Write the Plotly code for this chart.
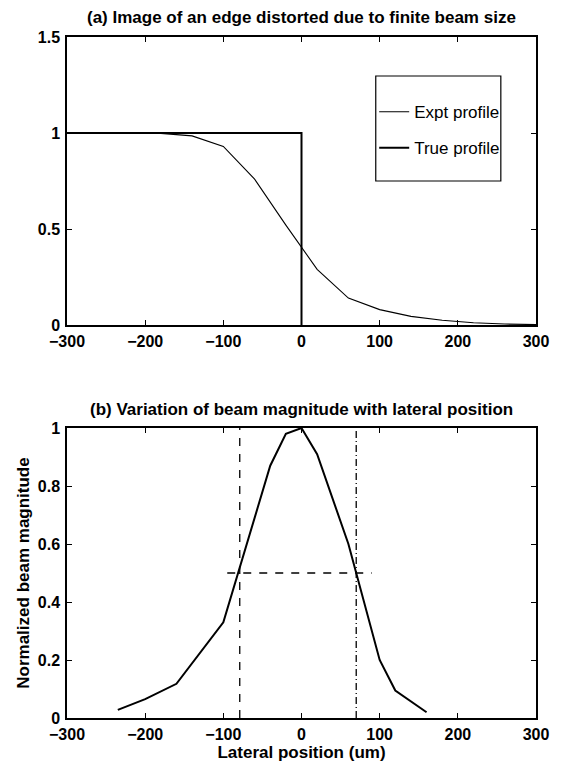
import plotly.graph_objects as go

# ---- data ----
expt_x = [-300, -260, -220, -180, -140, -100, -60, -20, 20, 60, 100, 140, 180, 220, 260, 300]
expt_y = [1.0, 1.0, 1.0, 0.998, 0.985, 0.93, 0.76, 0.52, 0.29, 0.14, 0.08, 0.045, 0.025, 0.012, 0.005, 0.002]
true_x = [-300, 0, 0]
true_y = [1.0, 1.0, 0.0]

beam_x = [-235, -200, -160, -100, -40, -20, 0, 20, 60, 100, 120, 160]
beam_y = [0.028, 0.065, 0.118, 0.33, 0.87, 0.98, 1.0, 0.91, 0.60, 0.20, 0.095, 0.02]

left_edge_x = -79
right_edge_x = 70
half_level = 0.5
half_line_x = [-95, 90]

top_title = "(a) Image of an edge distorted due to finite beam size"
bot_title = "(b) Variation of beam magnitude with lateral position"
x_label = "Lateral position (um)"
y_label = "Normalized beam magnitude"

FONT = "Liberation Sans, Arial, sans-serif"
BOLD = dict(family=FONT, size=17, color="black", weight="bold")
TICKF = dict(family=FONT, size=16, color="black", weight="bold")

fig = go.Figure()

fig.add_trace(go.Scatter(x=expt_x, y=expt_y, mode="lines", name="Expt profile",
                         line=dict(color="black", width=1.1), xaxis="x", yaxis="y",
                         legendgroup="a"))
fig.add_trace(go.Scatter(x=true_x, y=true_y, mode="lines", name="True profile",
                         line=dict(color="black", width=2), xaxis="x", yaxis="y",
                         legendgroup="b"))

fig.add_trace(go.Scatter(x=beam_x, y=beam_y, mode="lines", showlegend=False,
                         line=dict(color="black", width=2), xaxis="x2", yaxis="y2"))
fig.add_trace(go.Scatter(x=[left_edge_x, left_edge_x], y=[0, 1], mode="lines", showlegend=False,
                         line=dict(color="black", width=1.3, dash="8px,8px"), xaxis="x2", yaxis="y2"))
fig.add_trace(go.Scatter(x=[right_edge_x, right_edge_x], y=[0, 1], mode="lines", showlegend=False,
                         line=dict(color="black", width=1.3, dash="7px,3px,1px,3px"), xaxis="x2", yaxis="y2"))
fig.add_trace(go.Scatter(x=half_line_x, y=[half_level, half_level], mode="lines", showlegend=False,
                         line=dict(color="black", width=1.3, dash="8px,8px"), xaxis="x2", yaxis="y2"))

axis_common = dict(showline=True, linecolor="black", linewidth=1.5, mirror="ticks",
                   ticks="inside", ticklen=5, tickcolor="black", showgrid=False, zeroline=False,
                   tickfont=TICKF)

fig.update_layout(
    width=561, height=767,
    margin=dict(l=67, r=16, t=37, b=49),
    paper_bgcolor="white", plot_bgcolor="white",
    font=dict(family=FONT, size=16, color="black"),
    xaxis=dict(domain=[0, 1], range=[-300, 300], tickvals=[-300, -200, -100, 0, 100, 200, 300],
               anchor="y", ticklabelstandoff=1, **axis_common),
    yaxis=dict(domain=[0.5771, 1], range=[0, 1.5], tickvals=[0, 0.5, 1, 1.5],
               ticktext=["0", "0.5", "1", "1.5"], anchor="x", ticklabelstandoff=2, **axis_common),
    xaxis2=dict(domain=[0, 1], range=[-300, 300], tickvals=[-300, -200, -100, 0, 100, 200, 300],
                anchor="y2", ticklabelstandoff=1,
                title=dict(text=x_label, standoff=0, font=BOLD),
                **axis_common),
    yaxis2=dict(domain=[0, 0.4258], range=[0, 1], tickvals=[0, 0.2, 0.4, 0.6, 0.8, 1],
                ticktext=["0", "0.2", "0.4", "0.6", "0.8", "1"], anchor="x2", ticklabelstandoff=2,
                title=dict(text=y_label, standoff=4, font=BOLD),
                **axis_common),
    showlegend=True,
    legend=dict(x=0.655, y=0.916, xanchor="left", yanchor="top", bgcolor="rgba(0,0,0,0)",
                borderwidth=0, tracegroupgap=11, itemwidth=30,
                font=dict(family=FONT, size=17, color="black")),
    shapes=[dict(type="rect", xref="x", yref="y", x0=95, x1=255, y0=0.75, y1=1.297,
                 line=dict(color="black", width=1.2), fillcolor="rgba(0,0,0,0)")],
    annotations=[
        dict(text=top_title, xref="paper", yref="paper", x=0.5, y=1.0, yshift=20,
             xanchor="center", yanchor="middle", showarrow=False, font=BOLD),
        dict(text=bot_title, xref="paper", yref="paper", x=0.5, y=0.4258, yshift=19,
             xanchor="center", yanchor="middle", showarrow=False, font=BOLD),
    ],
)

fig.write_html("out.html")
